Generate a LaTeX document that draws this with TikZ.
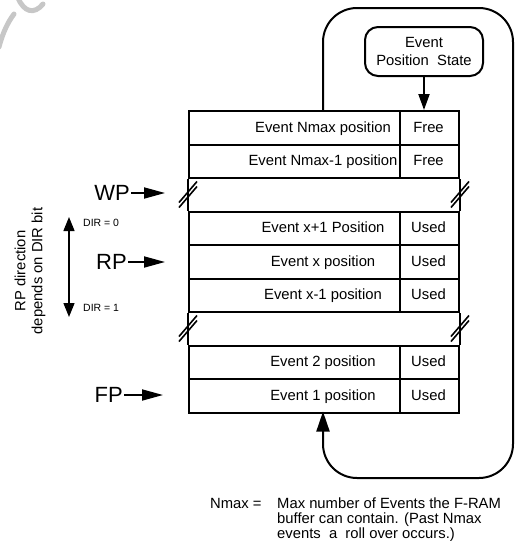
\documentclass[tikz,border=0pt]{standalone}
\usepackage{fontspec}
\setmainfont{Liberation Sans}
\usetikzlibrary{arrows.meta}

\begin{document}
\begin{tikzpicture}[x=1pt,y=-1pt,
  line join=miter,
  txt/.style={font=\fontsize{14.8}{17}\selectfont, inner sep=0pt},
  big/.style={font=\fontsize{22}{26}\selectfont, inner sep=1pt},
  small/.style={font=\fontsize{10.5}{12}\selectfont, inner sep=0pt},
  cell/.style={draw, line width=2pt, minimum height=33.5pt, inner sep=0pt, anchor=north west},
  wall/.style={line width=2pt},
  ptr/.style={line width=1.8pt, -{Triangle[length=21pt,width=11pt]}},
  breakmark/.style={line width=1.6pt},
  wm/.style={line width=5pt, black!22, line cap=round}
]
\useasboundingbox (0,0) rectangle (515,541);

% faint background lettering in the corner
\draw[wm] (-1,47) .. controls (3,32) and (8,22) .. (14,14);
\draw[wm] (18,-2) .. controls (24,12) and (34,15) .. (43,4);

% buffer rows: position cell and state cell
\foreach \i/\y/\lab/\st in {
  1/110/Event Nmax position/Free,
  2/143.5/Event Nmax-1 position/Free,
  3/210.5/Event x+1 Position/Used,
  4/244/Event x position/Used,
  5/277.5/Event x-1 position/Used,
  6/344.5/Event 2 position/Used,
  7/378/Event 1 position/Used}{
  \node[cell, minimum width=211pt] (c\i) at (188,\y) {};
  \node[cell, minimum width=59pt] (s\i) at (399,\y) {};
  \node[txt, anchor=base] (t\i) at (323,\y+22) {\lab};
  \node[txt, anchor=base] (u\i) at (428.5,\y+22) {\st};
}

% broken side walls across the skipped regions
\foreach \g/\top/\bot in {a/c2/c3, b/c5/c6}{
  \path (\top.south west) coordinate (\g l0) (\bot.north west) coordinate (\g l1)
        (\top.south east -| s1.east) coordinate (\g r0) (\bot.north east -| s1.east) coordinate (\g r1);
}
\foreach \p in {al, ar, bl, br}{
  \path (\p0) ++(0,15.5) coordinate (\p m);
  \draw[wall] (\p0) -- ([yshift=-2.5pt]\p m);
  \draw[wall] ([yshift=2.5pt]\p m) -- (\p1);
  \draw[breakmark] ([shift={(-9,8)}]\p m) -- ([shift={(9,-13)}]\p m);
  \draw[breakmark] ([shift={(-9,13)}]\p m) -- ([shift={(9,-8)}]\p m);
}

% state source and its arrow into the top row
\node[draw, line width=2pt, rounded corners=13pt, minimum width=118pt,
      minimum height=49pt, align=center, inner sep=0pt,
      font=\fontsize{14.8}{18}\selectfont] (eps) at (424,51.5) {Event\\Position\ \ State};
\draw[wall, -{Triangle[length=16pt,width=11pt]}] (eps.south) -- (eps.south |- s1.north);

% roll-over loop from the top row back to the first row
\coordinate (ltop) at (323,110);
\coordinate (lbot) at (323,411.5);
\draw[wall, rounded corners=34pt, -{Triangle[length=20pt,width=13pt]}]
  (ltop) -- (323,8) -- (513,8) -- (513,478) -- (323,478) -- (lbot);

% pointers
\node[big, anchor=east] (wp) at (131,193) {WP};
\coordinate (wpt) at (165,193);
\draw[ptr] (wp) -- (wpt);
\node[big, anchor=east] (rp) at (128,262) {RP};
\coordinate (rpt) at (165,262);
\draw[ptr] (rp) -- (rpt);
\node[big, anchor=east] (fp) at (124,395) {FP};
\coordinate (fpt) at (163,395);
\draw[ptr] (fp) -- (fpt);

% read direction
\coordinate (dtop) at (69,217);
\coordinate (dbot) at (69,317);
\draw[line width=1.4pt, {Triangle[length=14pt,width=11pt]}-{Triangle[length=14pt,width=11pt]}] (dtop) -- (dbot);
\node[small, anchor=west] (d0) at (83,223) {DIR = 0};
\node[small, anchor=west] (d1) at (83,308) {DIR = 1};
\node[rotate=90, align=center, inner sep=0pt, font=\fontsize{14.8}{17}\selectfont] (rpdir) at (30,271)
  {RP direction\\depends on DIR bit};

% legend
\node[txt, anchor=base west] (nmax) at (210,508) {Nmax =};
\node[txt, anchor=base west] (n1) at (277,508) {Max number of Events the F-RAM};
\node[txt, anchor=base west] (n2) at (277,523) {buffer can contain. (Past Nmax};
\node[txt, anchor=base west] (n3) at (277,538) {events\ \ a\ \ roll over occurs.)};
\end{tikzpicture}
\end{document}
